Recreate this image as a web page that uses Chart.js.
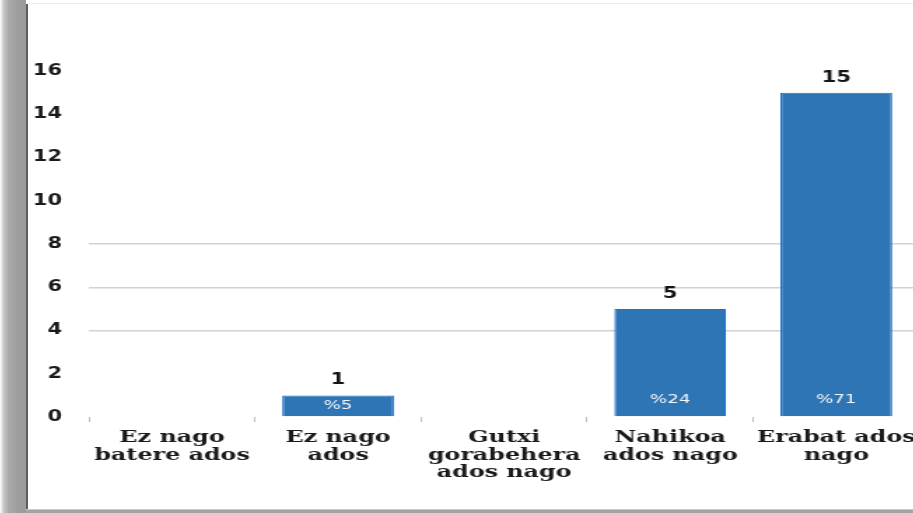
<!DOCTYPE html>
<html>
<head>
<meta charset="utf-8">
<script src="https://cdn.jsdelivr.net/npm/chart.js@4.4.1/dist/chart.umd.min.js"></script>
<style>
  html, body { margin: 0; padding: 0; }
  body { width: 913px; height: 513px; overflow: hidden; position: relative; background: #ffffff; }
  #shadowL { position: absolute; left: 0; top: 0; width: 26px; height: 513px;
    background: linear-gradient(to right, #ffffff 0px, #c4c4c4 4px, #a8a8a8 9px, #9e9e9e 18px, #9a9a9a 26px); }
  #shadowB { position: absolute; left: 26px; top: 509px; width: 887px; height: 4px; background: #a3a3a3; border-top: 1px solid #c9c9c9; box-sizing: border-box; z-index: 2; }
  #edgeL { position: absolute; left: 26px; top: 4px; width: 2px; height: 505px; background: #5e5e5e; }
  #edgeT { position: absolute; left: 28px; top: 3px; width: 885px; height: 1px; background: #ececec; }
  #wrap { position: absolute; left: 30px; top: 2px; width: 640px; height: 507px; overflow: hidden; transform: scaleX(1.4); transform-origin: 0 0; }
</style>
</head>
<body>
<div id="shadowL"></div>
<div id="edgeL"></div>
<div id="edgeT"></div>
<div id="wrap"><canvas id="c" width="640" height="513"></canvas></div>
<div id="shadowB"></div>
<script>
const categories = [
  ["Ez nago", "batere ados"],
  ["Ez nago", "ados"],
  ["Gutxi", "gorabehera", "ados nago"],
  ["Nahikoa", "ados nago"],
  ["Erabat ados", "nago"]
];
const counts = [0, 1, 0, 5, 15];
const percents = [0, 5, 0, 24, 71];
const yTicks = [0, 2, 4, 6, 8, 10, 12, 14, 16];
const gridValues = [4, 6, 8];

const labelPlugin = {
  id: 'barLabels',
  afterDatasetsDraw(chart) {
    const ctx = chart.ctx;
    const meta = chart.getDatasetMeta(0);
    ctx.save();
    ctx.textAlign = 'center';
    ctx.textBaseline = 'middle';
    meta.data.forEach((bar, i) => {
      if (counts[i] <= 0) return;
      ctx.fillStyle = '#141414';
      ctx.font = 'bold 15px "DejaVu Sans"';
      ctx.fillText(String(counts[i]), bar.x, bar.y - 15);
      ctx.fillStyle = '#f4f7fb';
      ctx.font = '13px "DejaVu Sans"';
      const py = Math.max(bar.base - 17, (bar.y + bar.base) / 2);
      ctx.fillText('%' + percents[i], bar.x, py);
    });
    ctx.restore();
  }
};

new Chart(document.getElementById('c'), {
  type: 'bar',
  data: {
    labels: categories,
    datasets: [{
      data: counts,
      backgroundColor: '#2E75B6',
      borderColor: '#1f6fd2',
      borderWidth: 1.2,
      categoryPercentage: 1,
      barPercentage: 0.673
    }]
  },
  options: {
    responsive: false,
    animation: false,
    devicePixelRatio: 1,
    layout: { padding: { top: 69, bottom: 0, left: 0, right: 3.6 } },
    plugins: { legend: { display: false }, tooltip: { enabled: false } },
    scales: {
      x: {
        border: { display: false },
        grid: { drawOnChartArea: false, drawTicks: true, tickLength: 5, color: '#bdbdbd', lineWidth: 1, offset: true },
        ticks: {
          color: '#1a1a1a',
          font: { family: '"DejaVu Serif"', size: 17, weight: 'bold', lineHeight: 1.03 },
          padding: 7,
          autoSkip: false,
          maxRotation: 0,
          minRotation: 0
        },
        afterFit(scale) { scale.height = 98; }
      },
      y: {
        min: 0,
        max: 16,
        border: { display: false },
        afterBuildTicks(scale) { scale.ticks = yTicks.map(v => ({ value: v })); },
        grid: {
          drawTicks: false,
          lineWidth: 1.5,
          color: (c) => (c.tick && gridValues.includes(c.tick.value)) ? '#d2d2d2' : 'rgba(0,0,0,0)'
        },
        ticks: {
          color: '#1a1a1a',
          font: { family: '"DejaVu Sans"', size: 15, weight: 'bold' },
          padding: 19.2
        },
        afterFit(scale) { scale.width = 42.1; }
      }
    }
  },
  plugins: [labelPlugin]
});
</script>
</body>
</html>
